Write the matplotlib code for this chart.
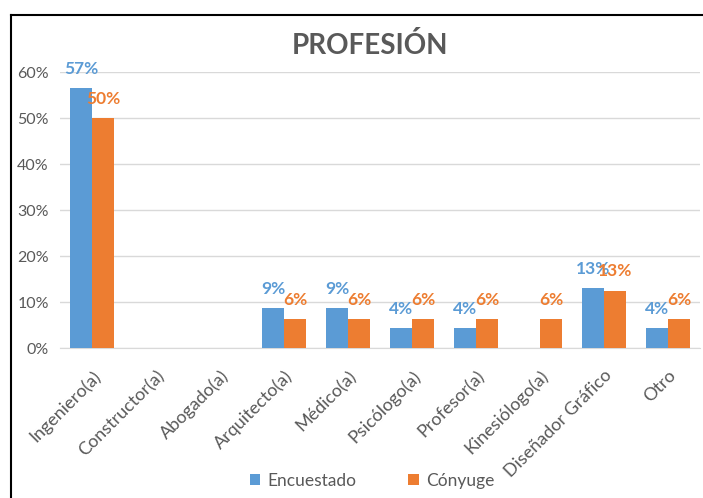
import matplotlib
matplotlib.use("Agg")
import matplotlib.pyplot as plt
import numpy as np
import math
from matplotlib.lines import Line2D

categories = ["Ingeniero(a)", "Constructor(a)", "Abogado(a)", "Arquitecto(a)", "Médico(a)",
              "Psicólogo(a)", "Profesor(a)", "Kinesiólogo(a)", "Diseñador Gráfico", "Otro"]
encuestado = [0.566, 0.0, 0.0, 0.087, 0.087, 0.043, 0.043, 0.0, 0.13, 0.043]
conyuge = [0.50, 0.0, 0.0, 0.0625, 0.0625, 0.0625, 0.0625, 0.0625, 0.125, 0.0625]
yticks = [0, 0.1, 0.2, 0.3, 0.4, 0.5, 0.6]
series_names = ["Encuestado", "Cónyuge"]

BLUE = "#5B9BD5"
ORANGE = "#ED7D31"
GRAY = "#595959"

plt.rcParams['font.family'] = ['Lato', 'DejaVu Sans']

W, H = 703, 498
fig = plt.figure(figsize=(W / 100, H / 100), dpi=100)
fig.patch.set_facecolor("white")

# outer frame
fig.add_artist(Line2D([11 / W, 11 / W], [0, 1 - 15 / H], color="black", lw=1.5))
fig.add_artist(Line2D([11 / W, 1], [1 - 15 / H, 1 - 15 / H], color="black", lw=1.5))

ax = fig.add_axes([60 / W, 1 - 348 / H, 640 / W, (348 - 72) / H])
x = np.arange(len(categories))
w = 0.345
b1 = ax.bar(x - w / 2, encuestado, w, color=BLUE, label=series_names[0], zorder=3)
b2 = ax.bar(x + w / 2, conyuge, w, color=ORANGE, label=series_names[1], zorder=3)

for bars, vals, col in ((b1, encuestado, BLUE), (b2, conyuge, ORANGE)):
    for r, v in zip(bars, vals):
        if v > 0:
            ax.annotate(f"{math.floor(v * 100 + 0.5):.0f}%", (r.get_x() + r.get_width() / 2, v),
                        xytext=(0, 8), textcoords="offset points", ha="center", va="bottom",
                        color=col, fontsize=12.5, fontweight="bold", clip_on=False, zorder=4)

ax.set_ylim(0, 0.6)
ax.set_xlim(-0.5, len(categories) - 0.5)
ax.set_yticks(yticks)
ax.set_yticklabels([f"{int(round(t * 100))}%" for t in yticks], color=GRAY, fontsize=11.5)
ax.set_xticks(x)
ax.set_xticklabels(categories, rotation=45, ha="right", rotation_mode="anchor",
                   color=GRAY, fontsize=13)
ax.tick_params(axis="y", length=0, pad=8)
ax.tick_params(axis="x", length=0, pad=14)
ax.grid(axis="y", color="#D9D9D9", lw=1, zorder=0)
for s in ["top", "right", "left"]:
    ax.spines[s].set_visible(False)
ax.spines["bottom"].set_color("#D9D9D9")

fig.text(370 / W, 1 - 46 / H, "PROFESIÓN", ha="center", va="center", fontsize=20,
         fontweight="bold", color=GRAY)

fig.legend(handles=[b1, b2], labels=series_names, loc="center", bbox_to_anchor=(372 / W, 1 - 481 / H),
           ncol=2, frameon=False, fontsize=12.5, handlelength=0.6, handleheight=0.6,
           columnspacing=3, handletextpad=0.4, labelcolor=GRAY)

fig.savefig("out.png", dpi=100)
